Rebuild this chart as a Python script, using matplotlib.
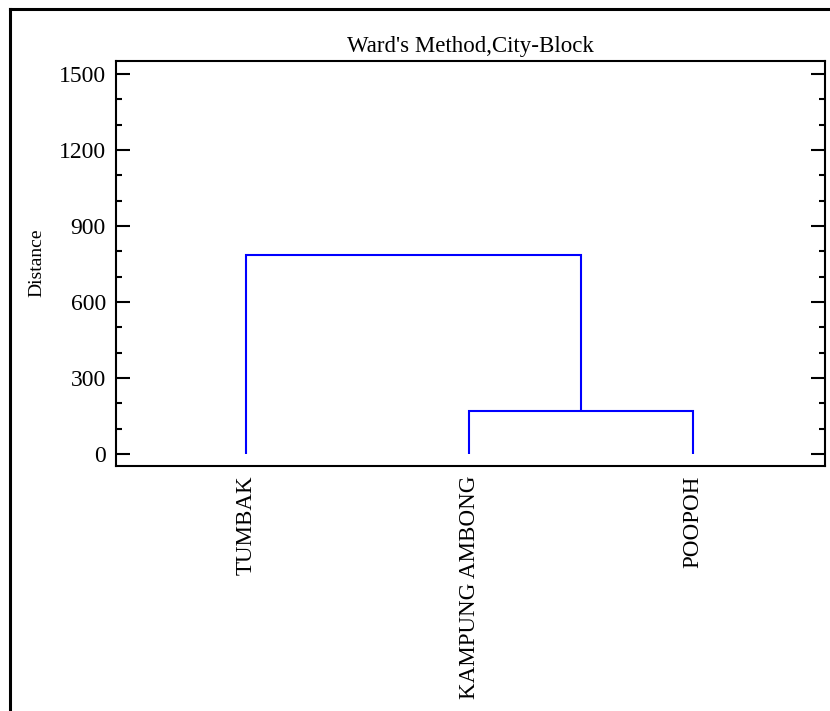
import matplotlib
matplotlib.use("Agg")
import matplotlib.pyplot as plt
from matplotlib.lines import Line2D
from matplotlib.ticker import MultipleLocator

# ---- data
leaves = ["TUMBAK", "KAMPUNG AMBONG", "POOPOH"]
# merge steps: (left node, right node, height); nodes 0..2 = leaves, 3 = first merge
merges = [(1, 2, 171.0), (0, 3, 786.0)]
yticks = [0, 300, 600, 900, 1200, 1500]
title = "Ward's Method,City-Block"
ylabel = "Distance"

plt.rcParams["font.family"] = ["Liberation Serif", "DejaVu Serif"]

W, H = 830, 711
fig = plt.figure(figsize=(W / 100, H / 100), dpi=100)
ax = fig.add_axes([115.7 / W, 1 - 466 / H, (825 - 115.7) / W, (466 - 60.5) / H])

# ---- dendrogram links
xs = {i: float(i + 1) for i in range(len(leaves))}
ys = {i: 0.0 for i in range(len(leaves))}
for k, (a, b, h) in enumerate(merges):
    ax.plot([xs[a], xs[a], xs[b], xs[b]], [ys[a], h, h, ys[b]],
            color="#0000ff", lw=1.5, solid_joinstyle="miter", solid_capstyle="butt")
    n = len(leaves) + k
    xs[n] = (xs[a] + xs[b]) / 2
    ys[n] = h

ax.set_xlim(0.4166, 3.592)
ax.set_ylim(-47, 1553)

ax.set_yticks(yticks)
ax.yaxis.set_minor_locator(MultipleLocator(100))
ax.tick_params(axis="y", which="both", direction="in", left=True, right=True,
               labelright=False, width=1.5, labelsize=17, pad=7)
ax.tick_params(axis="y", which="major", length=10)
ax.tick_params(axis="y", which="minor", length=4.5)

ax.set_xticks([xs[i] for i in range(len(leaves))])
ax.set_xticklabels(leaves, rotation=90, fontsize=16.6)
ax.tick_params(axis="x", length=0, pad=7)

for s in ax.spines.values():
    s.set_linewidth(1.5)

ax.set_title(title, fontsize=16.5, pad=6)
fig.text(37 / W, 1 - 263 / H, ylabel, rotation=90, ha="center", va="center", fontsize=14)

# outer frame (left and top edges only)
fx, fy = 9.5 / W, 1 - 8.5 / H
fig.add_artist(Line2D([fx, fx], [0, fy], transform=fig.transFigure, color="black",
                      lw=2.2, solid_capstyle="projecting"))
fig.add_artist(Line2D([fx, 1], [fy, fy], transform=fig.transFigure, color="black",
                      lw=2.2, solid_capstyle="projecting"))

fig.savefig("out.png", dpi=100)
